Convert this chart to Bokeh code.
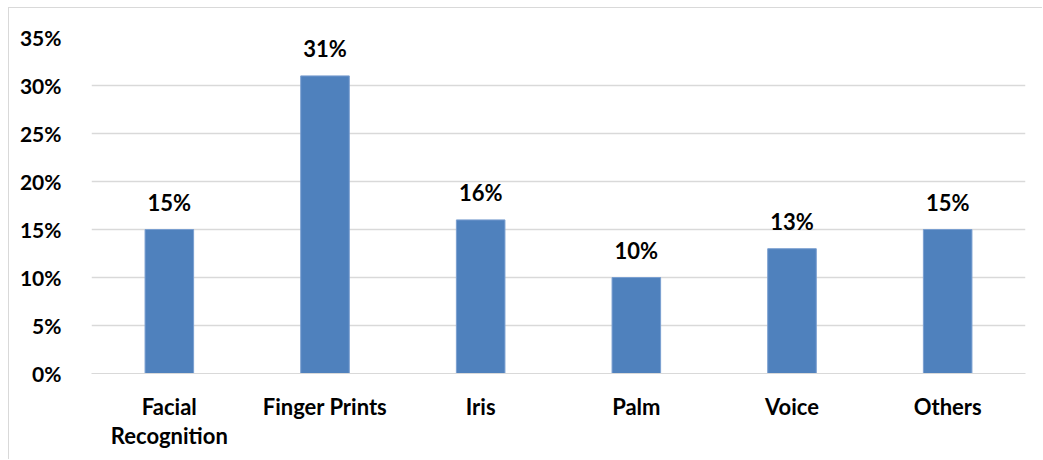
from bokeh.plotting import figure
from bokeh.models import ColumnDataSource, FactorRange, NumeralTickFormatter, FixedTicker, Range1d
from bokeh.core.properties import value
from bokeh.embed import file_html
from bokeh.resources import INLINE

categories = ["Facial\nRecognition", "Finger Prints", "Iris", "Palm", "Voice", "Others"]
shares = [0.15, 0.31, 0.16, 0.10, 0.13, 0.15]
share_labels = ["15%", "31%", "16%", "10%", "13%", "15%"]
y_ticks = [0.0, 0.05, 0.10, 0.15, 0.20, 0.25, 0.30, 0.35]

FONT = "Lato"
GRID = "#d9d9d9"

src = ColumnDataSource(dict(cat=categories, val=shares, lab=share_labels))

p = figure(width=1034, height=452, x_range=FactorRange(*categories),
           y_range=Range1d(0, 0.35), output_backend="svg", toolbar_location=None,
           min_border_left=82, min_border_right=18, min_border_top=29, min_border_bottom=87)
p.styles = {"margin-left": "8px", "margin-top": "7px",
            "border-left": "1px solid #d9d9d9", "border-top": "1px solid #d9d9d9"}
p.outline_line_color = None
p.background_fill_color = "white"
p.border_fill_color = "white"

p.vbar(x="cat", top="val", width=0.312, source=src, fill_color="#4F81BD",
       line_color="#7A9FD0", line_width=1)
p.text(x="cat", y="val", text="lab", source=src, text_align="center", text_baseline="bottom",
       y_offset=-14, text_font=value(FONT), text_font_style="bold", text_font_size="22px",
       text_color="black")

p.yaxis.ticker = FixedTicker(ticks=y_ticks)
p.yaxis.formatter = NumeralTickFormatter(format="0%")
p.yaxis.axis_line_color = None
p.yaxis.major_tick_line_color = None
p.yaxis.minor_tick_line_color = None
p.yaxis.major_label_standoff = 24
p.yaxis.major_label_text_font = FONT
p.yaxis.major_label_text_font_style = "bold"
p.yaxis.major_label_text_font_size = "21px"
p.yaxis.major_label_text_color = "black"

p.xaxis.axis_line_color = GRID
p.xaxis.major_tick_line_color = None
p.xaxis.minor_tick_line_color = None
p.xaxis.major_label_standoff = 13
p.xaxis.major_label_text_font = FONT
p.xaxis.major_label_text_font_style = "bold"
p.xaxis.major_label_text_font_size = "22px"
p.xaxis.major_label_text_color = "black"
p.xaxis.major_label_text_line_height = 1.1

p.xgrid.grid_line_color = None
p.ygrid.grid_line_color = GRID
p.ygrid.grid_line_width = 1.5
p.ygrid.ticker = FixedTicker(ticks=y_ticks)

open("out.html", "w").write(file_html(p, INLINE))
